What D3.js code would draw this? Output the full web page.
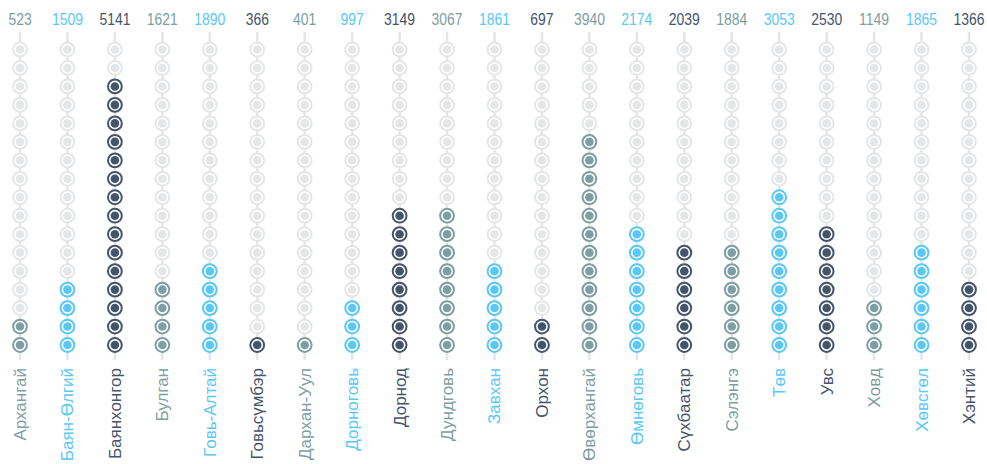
<!DOCTYPE html>
<html>
<head>
<meta charset="utf-8">
<script src="https://cdn.jsdelivr.net/npm/d3@7"></script>
<style>
  body { margin: 0; background: #fff; }
  svg { display: block; }
</style>
</head>
<body>
<script>
'use strict';

// aimag names, totals and the number of filled dots
const aimags = ["Архангай", "Баян-Өлгий", "Баянхонгор", "Булган", "Говь-Алтай", "Говьсүмбэр",
  "Дархан-Уул", "Дорноговь", "Дорнод", "Дундговь", "Завхан", "Орхон", "Өвөрхангай",
  "Өмнөговь", "Сүхбаатар", "Сэлэнгэ", "Төв", "Увс", "Ховд", "Хөвсгөл", "Хэнтий"];
const totals = [523, 1509, 5141, 1621, 1890, 366, 401, 997, 3149, 3067, 1861, 697, 3940,
  2174, 2039, 1884, 3053, 2530, 1149, 1865, 1366];
const filledDots = [2, 4, 15, 4, 5, 1, 1, 3, 8, 8, 5, 2, 12, 7, 6, 6, 9, 7, 3, 6, 4];
const dotRows = 17;
const palette = ["#7d9ea2", "#5ac8f6", "#44546b"];

(function() {
  const width = 987, height = 464;
  const svg = d3.select('body').append('svg')
    .attr('width', width)
    .attr('height', height);

  const data = aimags.map((name, i) => ({
    name: name,
    total: totals[i],
    filled: filledDots[i],
    color: palette[i % 3]
  }));

  // one column per aimag
  const x = d3.scalePoint()
    .domain(aimags)
    .range([20, 969]);

  // row 0 is the bottom dot
  const y = d3.scaleLinear()
    .domain([0, dotRows - 1])
    .range([345, 49.5]);

  const empty = "#e5e6e8";

  const cols = svg.selectAll('.col')
    .data(data)
    .enter()
    .append('g')
      .attr('class', 'col')
      .attr('transform', (d) => 'translate(' + x(d.name) + ',0)');

  // grey stem behind the dots
  cols.append('line')
    .attr('x1', 0).attr('x2', 0)
    .attr('y1', 32).attr('y2', 360)
    .attr('stroke', empty)
    .attr('stroke-width', 2.5);

  // dots: ring + inner disc
  const dots = cols.selectAll('.dot')
    .data((d) => d3.range(dotRows).map((r) => ({ row: r, on: r < d.filled, color: d.color })))
    .enter()
    .append('g')
      .attr('class', 'dot')
      .attr('transform', (d) => 'translate(0,' + y(d.row) + ')');

  dots.append('circle')
    .attr('r', 6.9)
    .attr('fill', '#fff')
    .attr('stroke', (d) => d.on ? d.color : empty)
    .attr('stroke-width', 2);

  dots.append('circle')
    .attr('r', 4.3)
    .attr('fill', (d) => d.on ? d.color : empty);

  // totals on top (condensed look)
  cols.append('text')
    .attr('transform', 'translate(0,25)scale(0.82,1)')
    .attr('text-anchor', 'middle')
    .style('font-family', '"Liberation Sans", Arial, sans-serif')
    .style('font-size', '17px')
    .attr('fill', (d) => d.color)
    .text((d) => d.total);

  // rotated aimag names at the bottom
  cols.append('text')
    .attr('transform', 'translate(0,368)rotate(-90)')
    .attr('text-anchor', 'end')
    .attr('dy', '0.35em')
    .style('font-family', '"Liberation Sans", Arial, sans-serif')
    .style('font-size', '17px')
    .attr('fill', (d) => d.color)
    .text((d) => d.name);
})();
</script>
</body>
</html>
